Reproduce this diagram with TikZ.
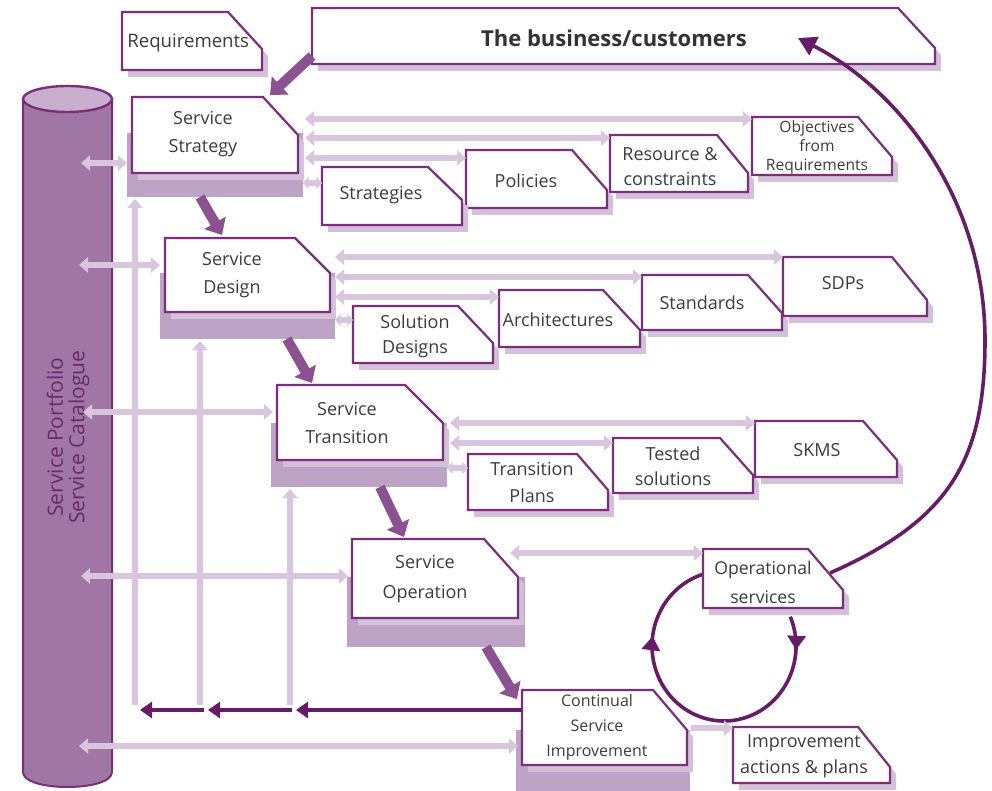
\documentclass[tikz,border=0pt]{standalone}
\usepackage{fontspec}
\setmainfont{Open Sans}
\usetikzlibrary{arrows.meta,decorations.markings}

\definecolor{boxc}{HTML}{7B2F7B}
\definecolor{lightc}{HTML}{D7C6DD}
\definecolor{bigshadow}{HTML}{BDA3C5}
\definecolor{smallshadow}{HTML}{D3C0D9}
\definecolor{cylc}{HTML}{9F76A4}
\definecolor{cyltop}{HTML}{C8AFCD}
\definecolor{cyltext}{HTML}{6A2A6A}
\definecolor{midc}{HTML}{8A5290}
\definecolor{darkc}{HTML}{661C66}
\definecolor{textc}{HTML}{3C3C3C}

\tikzset{
  boxline/.style={fill=white, draw=boxc, line width=1.1pt, line join=miter},
  boxshadow/.style={fill=smallshadow},
  frame/.style={inner sep=0pt, outer sep=0pt, draw=none},
  txt/.style={align=center, text=textc, inner sep=0pt, font=\fontsize{9}{14}\selectfont},
  smalltxt/.style={txt, font=\fontsize{7.8}{9.5}\selectfont},
  cyltxt/.style={text=cyltext, inner sep=0pt, font=\fontsize{10.5}{12}\selectfont, rotate=90},
  lightarr/.style={draw=lightc, line width=2.8pt,
    arrows={Triangle[width=7.5pt,length=4.5pt]-Triangle[width=7.5pt,length=4.5pt]}},
  lightshort/.style={draw=lightc, line width=2.8pt,
    arrows={Triangle[width=6pt,length=2.8pt]-Triangle[width=6pt,length=2.8pt]}},
  lightup/.style={draw=lightc, line width=2.8pt,
    arrows={-Triangle[width=7.5pt,length=4.5pt]}},
  flowarr/.style={draw=midc, line width=5pt,
    arrows={-Triangle[width=12pt,length=7pt]}},
  backarr/.style={draw=darkc, line width=2.4pt,
    arrows={-Triangle[width=8pt,length=6pt]}},
  cyclearr/.style={draw=darkc, line width=1.8pt},
}

% chamfered box: [shadow style]{name}{x1}{y1}{x2}{y2}{cut x}{cut y}
\newcommand\chbox[8][]{%
  \fill[boxshadow,#1] (#3+6,#4+7) -- (#5-#7+6,#4+7) -- (#5+6,#4+#8+7) -- (#5+6,#6+7) -- (#3+6,#6+7) -- cycle;
  \draw[boxline] (#3,#4) -- (#5-#7,#4) -- (#5,#4+#8) -- (#5,#6) -- (#3,#6) -- cycle;
  \node[frame, minimum width={(#5-#3)*0.5pt}, minimum height={(#6-#4)*0.5pt}] (#2) at ({(#3+#5)/2},{(#4+#6)/2}) {};
}

\begin{document}
\begin{tikzpicture}[x=0.5pt,y=-0.5pt]
\useasboundingbox[fill=white] (0,0) rectangle (992,791);

% ---- service portfolio cylinder ----
\fill[cylc, draw=boxc, line width=1pt] (23,99) -- (23,772) .. controls (23,792) and (112,792) .. (112,772) -- (112,99) -- cycle;
\filldraw[fill=cyltop, draw=boxc, line width=1.2pt] (67.5,99) ellipse [x radius=44.5, y radius=13];
\node[cyltxt] (portfolio) at (55,437) {Service Portfolio};
\node[cyltxt] (catalogue) at (79,437) {Service Catalogue};

% ---- feedback lines rising from improvement ----
\coordinate (up1) at (135,705);
\coordinate (up2) at (200,705);
\coordinate (up3) at (290,705);
\coordinate (cycstart) at (790.3,616.7);

% ---- large shadows of the lifecycle stages ----
\fill[bigshadow] (127,133) rectangle (303,197);
\fill[bigshadow] (160,273) rectangle (335,339);
\fill[bigshadow] (271,423) rectangle (447,487);
\fill[bigshadow] (347,577) rectangle (525,647);
\fill[bigshadow] (516,730) rectangle (690,791);

% ---- operation cycle (ends hidden under the box) ----
\draw[cyclearr, postaction={decorate}, decoration={markings,
    mark=at position 0.095 with {\arrow{Triangle[width=9pt,length=7pt]}},
    mark=at position 0.76 with {\arrow{Triangle[width=9pt,length=7pt]}}}]
  (cycstart) arc[start angle=-23, end angle=254, x radius=72, y radius=75];

% ---- boxes ----
\chbox{req}{122}{12}{262}{70}{34}{37}
\chbox{bus}{312}{8}{935}{64}{37}{40}
\chbox{ss}{132}{97}{298}{173}{35}{38}
\chbox{sd}{165}{238}{330}{312}{35}{35}
\chbox{st}{277}{385}{443}{460}{38}{38}
\chbox{so}{352}{539}{518}{618}{34}{38}
\chbox{csi}{522}{690}{687}{765}{34}{40}
\chbox{iap}{733}{727}{890}{783}{32}{40}
\chbox{ops}{703}{549}{843}{608}{35}{41}
\chbox{obj}{752}{117}{892}{175}{34}{40}
\chbox{res}{610}{135}{748}{192}{31}{38}
\chbox{pol}{466}{150}{607}{208}{35}{40}
\chbox{strg}{322}{167}{462}{225}{34}{33}
\chbox{sol}{353}{306}{493}{363}{35}{37}
\chbox{arch}{499}{290}{640}{347}{37}{40}
\chbox{stdd}{642}{275}{782}{330}{34}{38}
\chbox{sdp}{783}{257}{927}{316}{35}{43}
\chbox{tp}{468}{454}{608}{510}{31}{36}
\chbox{tsol}{613}{438}{753}{493}{33}{37}
\chbox{skms}{755}{421}{897}{477}{34}{39}

% ---- texts ----
\node[txt, anchor=west, font=\fontsize{9.3}{14}\selectfont] (req-t) at (127,43) {Requirements};
\node[txt, font=\bfseries\fontsize{11}{13}\selectfont, text=black!80] (bus-t) at (614,38) {The business/customers};
\node[txt] (ss-t) at (203,134) {Service\\Strategy};
\node[txt] (sd-t) at (232,275) {Service\\Design};
\node[txt] (st-t) at (347,423) {Service\\Transition};
\node[txt, font=\fontsize{9}{15}\selectfont] (so-t) at (425,579) {Service\\Operation};
\node[txt, font=\fontsize{8}{12.5}\selectfont] (csi-t) at (597,727) {Continual\\Service\\Improvement};
\node[txt, font=\fontsize{9}{13}\selectfont] (iap-t) at (804,756) {Improvement\\actions \& plans};
\node[txt, font=\fontsize{8.8}{14.5}\selectfont] (ops-t) at (763,582) {Operational\\services};
\node[smalltxt] (obj-t) at (817,147) {Objectives\\from\\Requirements};
\node[txt, font=\fontsize{9}{12.5}\selectfont] (res-t) at (670,167) {Resource \&\\constraints};
\node[txt] (pol-t) at (526,181) {Policies};
\node[txt] (strg-t) at (381,195) {Strategies};
\node[txt, font=\fontsize{9}{12.5}\selectfont] (sol-t) at (415,336) {Solution\\Designs};
\node[txt] (arch-t) at (558,320) {Architectures};
\node[txt] (stdd-t) at (702,303) {Standards};
\node[txt] (sdp-t) at (843,283) {SDPs};
\node[txt, font=\fontsize{9}{13.5}\selectfont] (tp-t) at (532,482) {Transition\\Plans};
\node[txt, font=\fontsize{9}{12.5}\selectfont] (tsol-t) at (673,466) {Tested\\solutions};
\node[txt] (skms-t) at (817,450) {SKMS};

% ---- light double arrows: stage outputs ----
\draw[lightarr, shorten <=3.5pt] (ss.east |- 0,119) -- (obj.west |- 0,119);
\draw[lightarr, shorten <=3.5pt] (ss.east |- 0,138) -- (res.west |- 0,138);
\draw[lightarr, shorten <=3.5pt] (ss.east |- 0,158) -- (pol.west |- 0,158);
\draw[lightshort, shorten <=2.5pt] (ss.east |- 0,183) -- (strg.west |- 0,183);

\draw[lightarr, shorten <=2.5pt] (sd.east |- 0,257) -- (sdp.west |- 0,257);
\draw[lightarr, shorten <=2.5pt] (sd.east |- 0,277) -- (stdd.west |- 0,277);
\draw[lightarr, shorten <=2.5pt] (sd.east |- 0,297) -- (arch.west |- 0,297);
\draw[lightshort, shorten <=2.5pt] (sd.east |- 0,320) -- (sol.west |- 0,320);

\draw[lightarr, shorten <=3.5pt] (st.east |- 0,423) -- (skms.west |- 0,423);
\draw[lightarr, shorten <=3.5pt] (st.east |- 0,443) -- (tsol.west |- 0,443);
\draw[lightshort, shorten <=2pt] (st.east |- 0,468) -- (tp.west |- 0,468);

\draw[lightarr, shorten <=-4pt] (so.east |- 0,553) -- (ops.west |- 0,553);
\draw[lightup, shorten <=2pt] (csi.east |- 0,728) -- (iap.west |- 0,728);

% ---- light double arrows: portfolio links ----
\draw[lightarr, shorten <=1pt] (catalogue |- 0,163) -- ([xshift=-2.5pt]ss.west |- 0,163);
\draw[lightarr, shorten <=0pt] (catalogue |- 0,265) -- ([xshift=-2.5pt]sd.west |- 0,265);
\draw[lightarr, shorten <=2pt] (catalogue |- 0,412) -- ([xshift=-2pt]st.west |- 0,412);
\draw[lightarr, shorten <=1pt] (catalogue |- 0,576) -- ([xshift=-2pt]so.west |- 0,576);
\draw[lightarr, shorten <=0pt] (catalogue |- 0,746) -- ([xshift=-2pt]csi.west |- 0,746);

% ---- improvement feedback to each stage ----
\draw[lightup] (up1) -- (135,199);
\draw[lightup] (up2) -- (200,341);
\draw[lightup] (up3) -- (290,489);
\draw[backarr] (csi.west |- 0,710) -- (296,710);
\draw[backarr] (292,710) -- (208,710);
\draw[backarr] (204,710) -- (140,710);

% ---- lifecycle flow ----
\draw[flowarr] (bus.west |- 0,56) -- ([xshift=-14pt,yshift=1pt]ss.north east);
\draw[flowarr] (200,197) -- (222,235);
\draw[flowarr] (287,339) -- (312,383);
\draw[flowarr] (380,487) -- (404,537);
\draw[flowarr] (486,647) -- (517,699);

% ---- delivery to the business ----
\draw[cyclearr, arrows={-Triangle[width=10pt,length=9pt]}]
  ([xshift=-6.5pt]ops.east |- 0,573) .. controls (950,520) and (985,460) .. (985,340)
  .. controls (985,200) and (900,90) .. ([yshift=13pt]bus.south -| 798,0);
\end{tikzpicture}
\end{document}
